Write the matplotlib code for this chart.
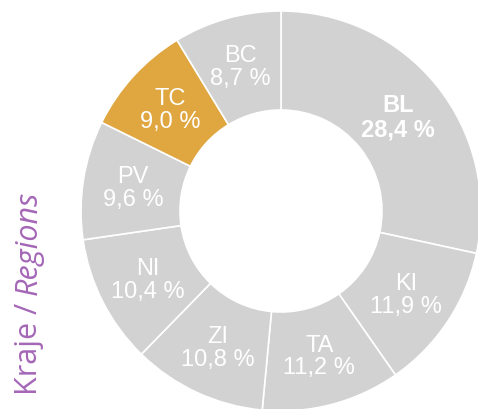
import numpy as np
import matplotlib.pyplot as plt

# Data
regions = ['BL', 'KI', 'TA', 'ZI', 'NI', 'PV', 'TC', 'BC']
shares = [28.4, 11.9, 11.2, 10.8, 10.4, 9.6, 9.0, 8.7]
highlight = 'TC'

gray = '#d3d2d2'
orange = '#e0a640'
purple = '#a467b7'

fig = plt.figure(figsize=(4.78, 4.10), dpi=100)
# donut centre at about (281, 212) px, outer radius 200 px
ax = fig.add_axes([81 / 478, (410 - 412) / 410, 400 / 478, 400 / 410])

colors = [orange if r == highlight else gray for r in regions]
wedges, _ = ax.pie(shares, colors=colors, startangle=90, counterclock=False,
                   radius=1.0, wedgeprops=dict(width=0.495, edgecolor='white', linewidth=1.2))
ax.set_xlim(-1, 1)
ax.set_ylim(-1, 1)
ax.set_aspect('equal')
ax.axis('off')

angle = 90.0
for reg, val in zip(regions, shares):
    mid = np.deg2rad(angle - val * 3.6 / 2)
    angle -= val * 3.6
    x, y = 0.75 * np.cos(mid), 0.75 * np.sin(mid)
    label = f"{reg}\n{val:.1f} %".replace('.', ',')
    ax.text(x, y, label, ha='center', va='center', color='white',
            fontsize=17, family='Liberation Sans', linespacing=1.05,
            fontweight='bold' if reg == 'BL' else 'normal')

# vertical axis title, "Regions" in italics
x0, y0 = 37 / 478, 1 - 395 / 410
t1 = fig.text(x0, y0, 'Kraje / ', rotation=90, rotation_mode='anchor',
              ha='left', va='baseline', color=purple, fontsize=22, family='Open Sans')
fig.canvas.draw()
bb = t1.get_window_extent()
y1 = y0 + bb.height / fig.bbox.height
fig.text(x0, y1, 'Regions', rotation=90, rotation_mode='anchor', style='italic',
         ha='left', va='baseline', color=purple, fontsize=22, family='Open Sans')

fig.savefig('out.png', dpi=100)
